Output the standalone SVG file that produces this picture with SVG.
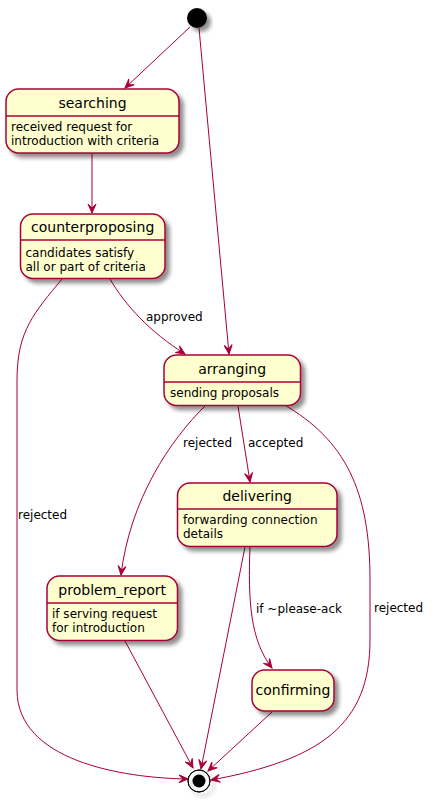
<svg xmlns="http://www.w3.org/2000/svg" width="436" height="801" viewBox="0 0 436 801">
<style>
.st{fill:#FEFECE;stroke:#A80036;stroke-width:1.5;filter:url(#sh)}
.dv{stroke:#A80036;stroke-width:1.5}
.t{font-family:"DejaVu Sans",sans-serif;font-size:14px;fill:#000;text-anchor:middle}
.b{font-family:"DejaVu Sans",sans-serif;font-size:12px;fill:#000}
.e{fill:none;stroke:#A80036;stroke-width:1;marker-end:url(#ah)}
.l{font-family:"DejaVu Sans",sans-serif;font-size:12px;fill:#000}
</style>
<defs>
<filter id="sh" x="-20%" y="-20%" width="150%" height="150%">
<feGaussianBlur in="SourceAlpha" stdDeviation="2"/>
<feOffset dx="4" dy="4" result="o"/>
<feComponentTransfer><feFuncA type="linear" slope="0.45"/></feComponentTransfer>
<feMerge><feMergeNode/><feMergeNode in="SourceGraphic"/></feMerge>
</filter>
<marker id="ah" markerUnits="userSpaceOnUse" markerWidth="12" markerHeight="12" viewBox="-10 -6 12 12" refX="0" refY="0" orient="auto">
<path d="M0,0 L-9,-4 L-5,0 L-9,4 Z" fill="#A80036" stroke="#A80036" stroke-width="1"/>
</marker>
</defs>
<g id="connectors">
<path class="e" d="M190,27 L125,88"/>
<path class="e" d="M199,28 L229,354"/>
<path class="e" d="M92,153 L92,213"/>
<path class="e" d="M110,279 C125,305 150,332 185,354"/>
<text class="l" x="146" y="321">approved</text>
<path class="e" d="M62,279 C35,312 17,330 17,380 L17,690 C17,760 120,778 188,779"/>
<text class="l" x="18" y="519">rejected</text>
<path class="e" d="M206,405 C170,440 130,500 121,575"/>
<text class="l" x="183" y="447">rejected</text>
<path class="e" d="M238,406 L250,482"/>
<text class="l" x="248" y="447">accepted</text>
<path class="e" d="M283,404 C345,440 370,490 370,580 L370,640 C370,725 320,760 211,780"/>
<text class="l" x="374" y="612">rejected</text>
<path class="e" d="M245,547 L201,769"/>
<path class="e" d="M250,547 C248,600 250,640 272,668"/>
<text class="l" x="256" y="613">if ~please-ack</text>
<path class="e" d="M125,641 L193,768"/>
<path class="e" d="M272,712 L208,771"/>
</g>
<g id="start">
<circle cx="197" cy="18" r="10" fill="#000" filter="url(#sh)"/>
</g>
<g id="searching">
<rect class="st" x="6" y="89" width="173" height="64" rx="12.5"/>
<line class="dv" x1="6" y1="116" x2="179" y2="116"/>
<text class="t" x="92.5" y="108">searching</text>
<text class="b" x="11" y="131">received request for</text>
<text class="b" x="11" y="145">introduction with criteria</text>
</g>
<g id="counterproposing">
<rect class="st" x="20.5" y="214" width="144.5" height="64.5" rx="12.5"/>
<line class="dv" x1="20.5" y1="240" x2="165" y2="240"/>
<text class="t" x="92.7" y="232">counterproposing</text>
<text class="b" x="25.5" y="257">candidates satisfy</text>
<text class="b" x="25.5" y="271">all or part of criteria</text>
</g>
<g id="arranging">
<rect class="st" x="164" y="355" width="136.5" height="50.5" rx="12.5"/>
<line class="dv" x1="164" y1="382" x2="300.5" y2="382"/>
<text class="t" x="232.2" y="374">arranging</text>
<text class="b" x="170" y="397">sending proposals</text>
</g>
<g id="delivering">
<rect class="st" x="177.5" y="483" width="159.5" height="63.5" rx="12.5"/>
<line class="dv" x1="177.5" y1="509" x2="337" y2="509"/>
<text class="t" x="257.2" y="501">delivering</text>
<text class="b" x="183" y="524">forwarding connection</text>
<text class="b" x="183" y="538">details</text>
</g>
<g id="problem_report">
<rect class="st" x="47" y="576" width="130.5" height="64.5" rx="12.5"/>
<line class="dv" x1="47" y1="603" x2="177.5" y2="603"/>
<text class="t" x="112.2" y="595">problem_report</text>
<text class="b" x="52" y="618">if serving request</text>
<text class="b" x="52" y="632">for introduction</text>
</g>
<g id="confirming">
<rect class="st" x="252" y="670" width="82" height="41" rx="12.5"/>
<text class="t" x="293" y="695">confirming</text>
</g>
<g id="end">
<circle cx="199" cy="781" r="11" fill="none" stroke="#000" stroke-width="1" filter="url(#sh)"/>
<circle cx="199" cy="781" r="11" fill="#fff" fill-opacity="0" stroke="#000" stroke-width="1"/>
<circle cx="199" cy="781" r="6.5" fill="#000"/>
</g>
</svg>
